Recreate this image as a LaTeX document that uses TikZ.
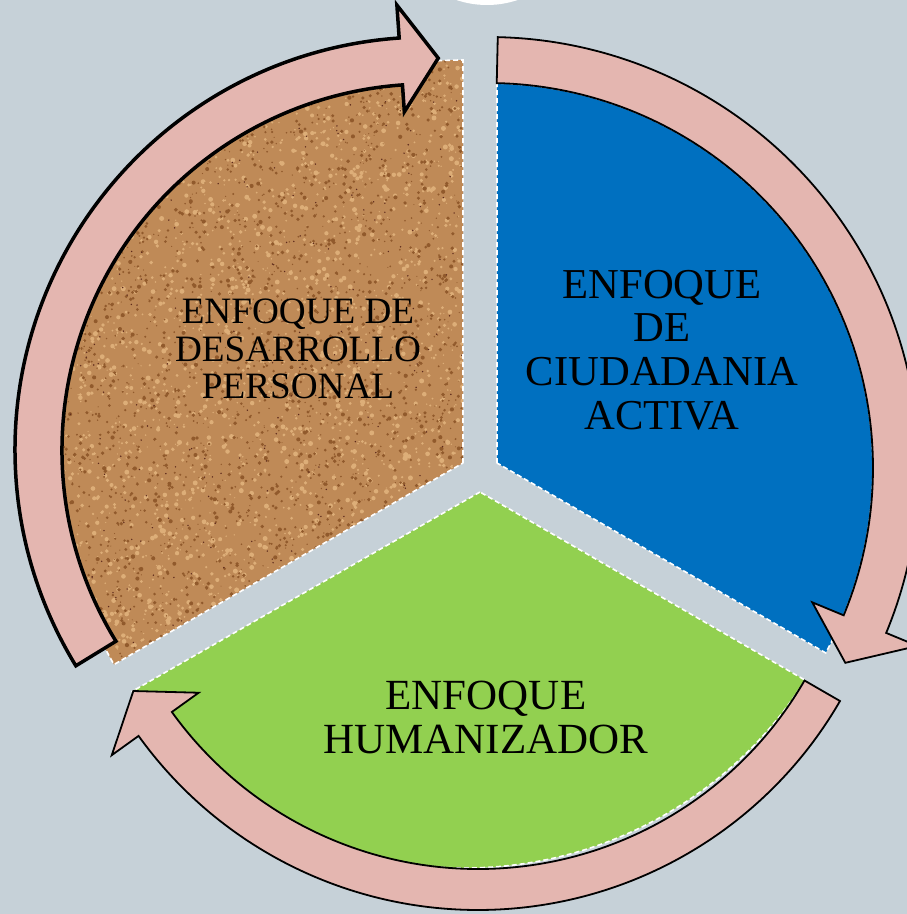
\documentclass[tikz,border=0pt]{standalone}
\usepackage{fontspec}
\setmainfont{Liberation Serif}
\definecolor{bgcol}{HTML}{C6D1D8}
\definecolor{pinkband}{HTML}{E4B6B0}
\definecolor{bluesect}{HTML}{0070C0}
\definecolor{greensect}{HTML}{92D050}
\definecolor{corkbase}{HTML}{BF8A57}
\definecolor{corklight}{HTML}{DDAE78}
\definecolor{corkdark}{HTML}{915A2C}
\definecolor{corkspot}{HTML}{5E2A1C}
\begin{document}
\begin{tikzpicture}[x=1pt,y=-1pt,
    sectoredge/.style={draw=white,line width=1.6pt,dash pattern=on 5pt off 3pt},
    band/.style={fill=pinkband,draw=black,line width=1.8pt,line join=miter},
    sectortext/.style={align=center,text=black,inner sep=0pt}]
        \useasboundingbox (0,0) rectangle (907,914);
        \clip (0,0) rectangle (907,914);
        \fill [bgcol] (0,0) rectangle (907,914);
        \fill [white] (487,-90.5) circle [radius = 95.5];
        % sectors
        \begin{scope}
          \clip (463,463) -- (463,60) arc [start angle=270, end angle=150, radius=403] -- cycle;
          \fill [corkbase] (55,55) rectangle (470,670);
          \pgfmathsetseed{42}
          \foreach \i in {1,...,2600}
            \fill [corklight] (60+403*rnd,60+610*rnd) circle [radius = 0.6+1.9*rnd];
          \foreach \i in {1,...,2600}
            \fill [corkdark] (60+403*rnd,60+610*rnd) circle [radius = 0.5+1.6*rnd];
          \foreach \i in {1,...,300}
            \fill [corkspot] (60+403*rnd,60+610*rnd) circle [radius = 0.8];
        \end{scope}
        \draw [sectoredge] (463,463) -- (463,60) arc [start angle=270, end angle=150, radius=403] -- cycle;
        \begin{scope}[shift={(488,468)}]
          \fill [bluesect] (9,-5) -- (-88.66:385) arc [start angle=-88.66, end angle=28.7, radius=385] -- cycle;
          \draw [sectoredge] (9,-5) -- (-88.66:385) arc [start angle=-88.66, end angle=28.7, radius=385] -- cycle;
        \end{scope}
        \begin{scope}[shift={(465,466)}]
          \fill [greensect] (15,26) -- (145.9:402) arc [start angle=145.9, end angle=32.2, radius=402] -- cycle;
          \draw [sectoredge] (15,26) -- (145.9:402) arc [start angle=145.9, end angle=32.2, radius=402] -- cycle;
        \end{scope}
        % arrows
        \begin{scope}[shift={(428,450)}]
          \draw [band, line width=3.5pt] (148.5:366) arc [start angle=148.5, end angle=266, radius=366]
            -- (266:339) -- (271.5:392) -- (266:446) -- (266:413)
            arc [start angle=266, end angle=148.5, radius=413] -- cycle;
        \end{scope}
        \begin{scope}[shift={(488,468)}]
          \draw [band] (-88.7:385) arc [start angle=-88.7, end angle=22.5, radius=385]
            -- (22.5:351) -- (28.6:407) -- (22.5:465) -- (22.5:431)
            arc [start angle=22.5, end angle=-88.7, radius=431] -- cycle;
        \end{scope}
        \begin{scope}[shift={(478,492)}]
          \draw [band] (30:377) arc [start angle=30, end angle=144.3, radius=377]
            -- (144.3:344) -- (150:398) -- (144.3:451) -- (144.3:418)
            arc [start angle=144.3, end angle=30, radius=418] -- cycle;
        \end{scope}
        % texts
        \node [sectortext, font=\fontsize{37.2}{37.7}\selectfont] (desarrollo) at (298,349) {ENFOQUE DE\\DESARROLLO\\PERSONAL};
        \node [sectortext, font=\fontsize{42.6}{43.7}\selectfont] (ciudadania) at (662,350) {ENFOQUE\\DE\\CIUDADANIA\\ACTIVA};
        \node [sectortext, font=\fontsize{43}{44}\selectfont] (humanizador) at (486,717) {ENFOQUE\\HUMANIZADOR};
\end{tikzpicture}
\end{document}
